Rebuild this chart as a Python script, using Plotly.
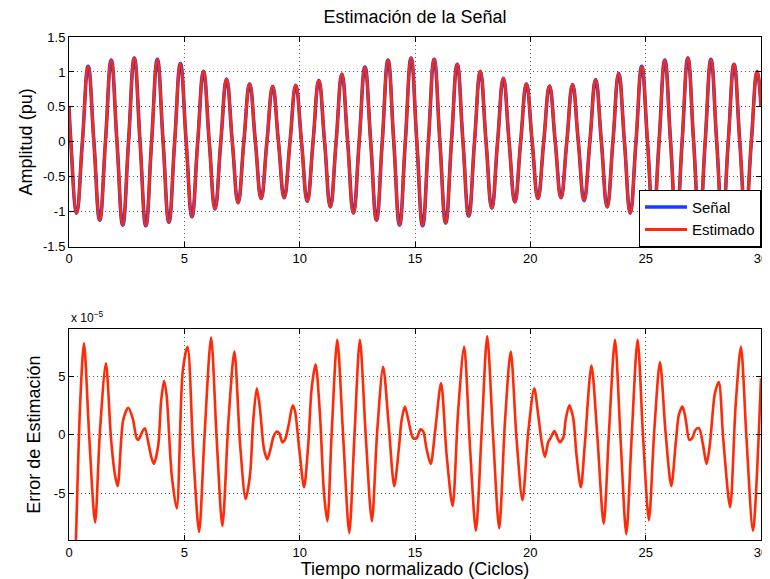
import plotly.graph_objects as go

# ---------------- data ----------------
# Top panel: signal, sampled at zero crossings / troughs / peaks of each cycle
t_senal = [
    0.00,
    0.08, 0.33, 0.58, 0.83,
    1.08, 1.33, 1.58, 1.83,
    2.08, 2.33, 2.58, 2.83,
    3.08, 3.33, 3.58, 3.83,
    4.08, 4.33, 4.58, 4.83,
    5.08, 5.33, 5.58, 5.83,
    6.08, 6.33, 6.58, 6.83,
    7.08, 7.33, 7.58, 7.83,
    8.08, 8.33, 8.58, 8.83,
    9.08, 9.33, 9.58, 9.83,
    10.08, 10.33, 10.58, 10.83,
    11.08, 11.33, 11.58, 11.83,
    12.08, 12.33, 12.58, 12.83,
    13.08, 13.33, 13.58, 13.83,
    14.08, 14.33, 14.58, 14.83,
    15.08, 15.33, 15.58, 15.83,
    16.08, 16.33, 16.58, 16.83,
    17.08, 17.33, 17.58, 17.83,
    18.08, 18.33, 18.58, 18.83,
    19.08, 19.33, 19.58, 19.83,
    20.08, 20.33, 20.58, 20.83,
    21.08, 21.33, 21.58, 21.83,
    22.08, 22.33, 22.58, 22.83,
    23.08, 23.33, 23.58, 23.83,
    24.08, 24.33, 24.58, 24.83,
    25.08, 25.33, 25.58, 25.83,
    26.08, 26.33, 26.58, 26.83,
    27.08, 27.33, 27.58, 27.83,
    28.08, 28.33, 28.58, 28.83,
    29.08, 29.33, 29.58, 29.83,
    30.00,
]
y_senal = [
    0.50,
    0, -1.02, 0, 1.08,
    0, -1.12, 0, 1.17,
    0, -1.19, 0, 1.20,
    0, -1.20, 0, 1.18,
    0, -1.15, 0, 1.12,
    0, -1.07, 0, 1.01,
    0, -0.96, 0, 0.90,
    0, -0.87, 0, 0.83,
    0, -0.81, 0, 0.79,
    0, -0.80, 0, 0.81,
    0, -0.85, 0, 0.88,
    0, -0.93, 0, 0.97,
    0, -1.02, 0, 1.07,
    0, -1.12, 0, 1.17,
    0, -1.19, 0, 1.20,
    0, -1.20, 0, 1.18,
    0, -1.16, 0, 1.11,
    0, -1.06, 0, 1.01,
    0, -0.95, 0, 0.91,
    0, -0.86, 0, 0.83,
    0, -0.81, 0, 0.80,
    0, -0.80, 0, 0.82,
    0, -0.84, 0, 0.89,
    0, -0.93, 0, 0.98,
    0, -1.02, 0, 1.08,
    0, -1.12, 0, 1.17,
    0, -1.19, 0, 1.20,
    0, -1.20, 0, 1.18,
    0, -1.15, 0, 1.11,
    0, -1.07, 0, 1.01,
    0.50,
]
# estimate is visually identical to the signal (difference ~1e-5)
y_estimado = list(y_senal)

# Bottom panel: estimation error, in units of 1e-5
t_err = [
    0.27, 0.30, 0.48, 0.65, 0.88, 1.13, 1.34, 1.60, 1.82, 1.99,
    2.11, 2.35, 2.57, 2.76, 2.93, 3.00, 3.19, 3.29, 3.46, 3.58,
    3.68, 3.87, 3.99, 4.12, 4.23, 4.45, 4.67, 4.93, 5.14, 5.39,
    5.64, 5.87, 6.16, 6.40, 6.65, 6.91, 7.17, 7.42, 7.66, 7.85,
    7.98, 8.14, 8.28, 8.45, 8.60, 8.74, 8.86, 9.00, 9.12, 9.25,
    9.36, 9.51, 9.70, 9.80, 9.98, 10.19, 10.37, 10.52, 10.69, 10.88,
    11.05, 11.20, 11.39, 11.63, 11.89, 12.15, 12.37, 12.61, 12.87, 13.13,
    13.36, 13.62, 13.86, 14.10, 14.30, 14.42, 14.56, 14.71, 14.92, 15.07,
    15.24, 15.36, 15.50, 15.68, 15.87, 16.13, 16.37, 16.63, 16.87, 17.13,
    17.38, 17.64, 17.89, 18.13, 18.39, 18.65, 18.90, 19.15, 19.40, 19.66,
    19.91, 20.17, 20.34, 20.49, 20.63, 20.78, 20.89, 21.04, 21.18, 21.28,
    21.43, 21.53, 21.69, 21.86, 22.00, 22.19, 22.36, 22.65, 22.91, 23.18,
    23.41, 23.67, 23.91, 24.16, 24.39, 24.65, 24.89, 25.14, 25.37, 25.62,
    25.86, 26.11, 26.31, 26.44, 26.60, 26.74, 26.89, 27.02, 27.16, 27.31,
    27.49, 27.64, 27.78, 28.00, 28.17, 28.36, 28.66, 28.90, 29.13, 29.37,
    29.65, 30.00,
]
e_err = [
    -10.5, -9.0, 2.5, 7.8, -0.3, -7.5, 0.25, 6.1, -0.3, -3.4,
    -4.4, 1.25, 2.3, 1.4, -0.3, -0.45, 0.3, 0.55, -0.9, -2.0,
    -2.5, -0.9, 2.8, 4.6, 3.4, -3.4, -6.3, 5.4, 7.5, -1.7,
    -8.3, -0.3, 8.3, -0.3, -7.8, 1.1, 7.1, -0.9, -5.5, -3.4,
    1.0, 3.95, 2.2, -1.2, -2.1, -1.2, -0.2, 0.25, 0.1, -0.65,
    -0.45, 0.7, 2.5, 2.0, -1.2, -4.5, -0.9, 3.95, 6.0, 1.7,
    -4.9, -7.4, 0.25, 8.1, -0.3, -8.4, -0.3, 8.1, -0.3, -7.4,
    0.25, 5.8, 0.8, -4.4, -1.2, 1.25, 2.4, 1.25, -0.3, -0.3,
    0.45, 0.25, -1.2, -2.5, 0.25, 4.4, -1.7, -6.1, 2.0, 7.5,
    -0.9, -8.2, 0.25, 8.4, -0.3, -8.0, 1.1, 7.1, -0.3, -5.6,
    0.25, 3.95, 1.7, -0.6, -1.9, -0.6, -0.25, 0.3, -0.3, -0.65,
    -0.25, 1.25, 2.5, 1.4, -1.7, -4.5, -0.9, 5.9, -0.3, -7.6,
    0.25, 8.1, -0.3, -8.5, -0.3, 8.1, -0.3, -7.3, 0.25, 6.2,
    0.25, -4.4, -0.6, 1.7, 2.4, 1.25, -0.45, -0.3, 0.4, 0.55,
    -0.9, -2.5, -0.9, 3.5, 4.5, -0.3, -6.2, 2.5, 7.5, -0.3,
    -8.2, 4.8,
]
ERR_SCALE = 1e-5

x_ticks = [0, 5, 10, 15, 20, 25, 30]
y1_ticks = [-1.5, -1, -0.5, 0, 0.5, 1, 1.5]
y1_ticktext = ["-1.5", "-1", "-0.5", "0", "0.5", "1", "1.5"]
y2_ticks = [-5, 0, 5]
y2_ticktext = ["-5", "0", "5"]

# ---------------- figure ----------------
# The page body has an 8px margin, so the figure is 8px smaller than the window
FONT = "Liberation Sans, Arial, Helvetica, sans-serif"
BLUE = "#1a3cff"
RED = "#ff2a08"
W, H = 762, 571

fig = go.Figure()
fig.add_trace(go.Scatter(x=t_senal, y=y_senal, mode="lines", name="Señal",
                         line=dict(color=BLUE, width=3.6, shape="spline", smoothing=1.3),
                         xaxis="x", yaxis="y"))
fig.add_trace(go.Scatter(x=t_senal, y=y_estimado, mode="lines", name="Estimado",
                         line=dict(color=RED, width=2.8, shape="spline", smoothing=1.3),
                         xaxis="x", yaxis="y"))
fig.add_trace(go.Scatter(x=t_err, y=[v * ERR_SCALE for v in e_err], mode="lines",
                         name="Error", showlegend=False,
                         line=dict(color=RED, width=2.6, shape="spline", smoothing=0.8),
                         xaxis="x2", yaxis="y2"))

axis_common = dict(
    showline=True, linecolor="black", linewidth=1, mirror="ticks",
    ticks="inside", ticklen=5, tickcolor="black",
    showgrid=True, gridcolor="#555555", griddash="1px,3px", gridwidth=1,
    zeroline=False, automargin=False,
    tickfont=dict(family=FONT, size=13, color="black"),
)

fig.update_layout(
    width=W, height=H,
    margin=dict(l=61, r=9, t=29, b=39),
    paper_bgcolor="white", plot_bgcolor="white",
    font=dict(family=FONT, color="black"),
    title=dict(text="Estimación de la Señal", x=0.5, xref="paper", xanchor="center",
               y=1 - 9 / H, yref="container", yanchor="middle",
               font=dict(family=FONT, size=18, color="black"), automargin=False),
    xaxis=dict(domain=[0, 1], range=[0, 30], tickvals=x_ticks, anchor="y",
               **axis_common),
    yaxis=dict(domain=[0.583, 1], range=[-1.5, 1.5], tickvals=y1_ticks,
               ticktext=y1_ticktext, anchor="x",
               title=dict(text="Amplitud (pu)", font=dict(family=FONT, size=18), standoff=5),
               **axis_common),
    xaxis2=dict(domain=[0, 1], range=[0, 30], tickvals=x_ticks, anchor="y2",
                title=dict(text="Tiempo normalizado (Ciclos)", font=dict(family=FONT, size=18),
                           standoff=0),
                **axis_common),
    yaxis2=dict(domain=[0, 0.419], range=[-9 * ERR_SCALE, 9 * ERR_SCALE],
                tickvals=[v * ERR_SCALE for v in y2_ticks], ticktext=y2_ticktext,
                anchor="x2",
                title=dict(text="Error de Estimación", font=dict(family=FONT, size=18), standoff=8),
                **axis_common),
    legend=dict(x=1, xanchor="right", y=0.583, yanchor="bottom",
                bgcolor="white", bordercolor="black", borderwidth=1,
                font=dict(family=FONT, size=15, color="black"),
                tracegroupgap=0, itemwidth=42),
    showlegend=True,
    annotations=[dict(text="x 10<sup>−5</sup>", x=0, xref="paper", xanchor="left",
                      y=0.419, yref="paper", yanchor="bottom", yshift=2,
                      showarrow=False, font=dict(family=FONT, size=12, color="black"))],
)

fig.write_html("out.html")
